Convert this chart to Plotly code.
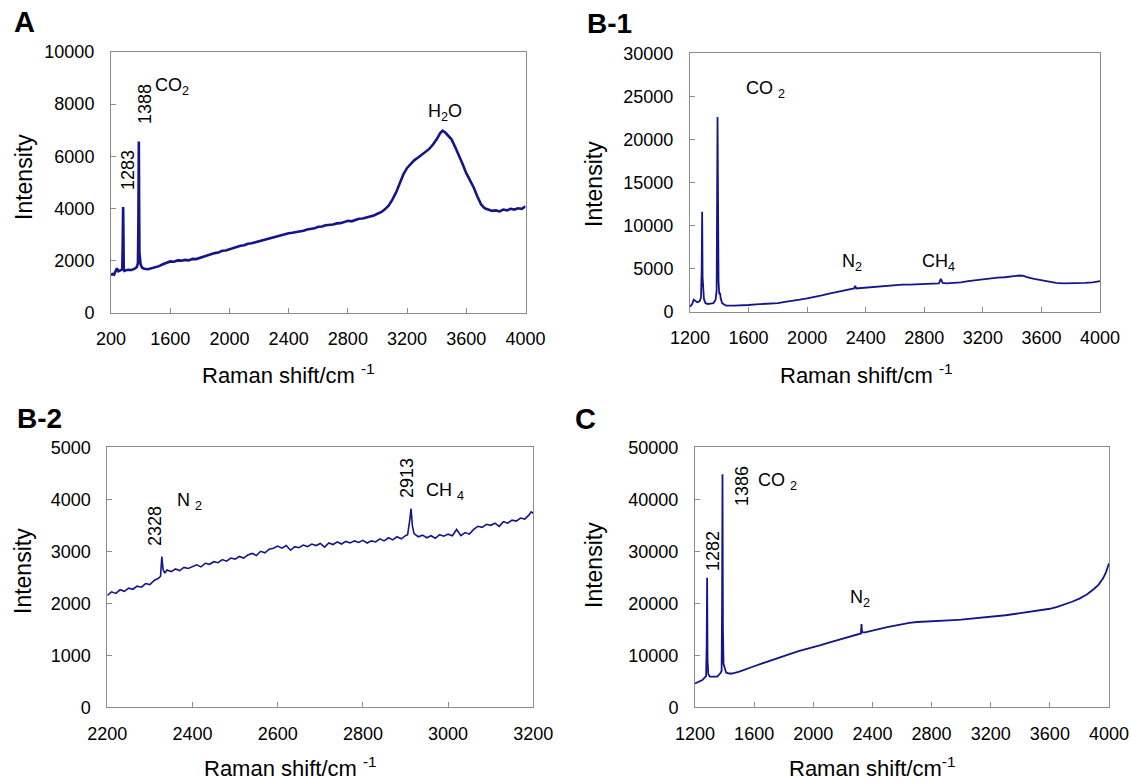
import plotly.graph_objects as go

# ---------------- data ----------------
a_x = [1200,1210,1220,1230,1240,1250,1260,1270,1276,1279,1282,1284,1286,1290,1300,1320,1340,1360,1375,1382,1385,1388,1390,1392,1396,1400,1410,1425,1450,1475,1500,1525,1550,1575,1600,1625,1650,1675,1700,1725,1750,1775,1800,1825,1850,1875,1900,1925,1950,1975,2000,2025,2050,2075,2100,2125,2150,2175,2200,2225,2250,2275,2300,2325,2350,2375,2400,2425,2450,2475,2500,2525,2550,2575,2600,2625,2650,2675,2700,2725,2750,2775,2800,2825,2850,2875,2900,2925,2950,2975,3000,3025,3050,3075,3100,3125,3150,3175,3200,3225,3250,3275,3300,3325,3350,3375,3400,3425,3440,3460,3475,3500,3525,3550,3575,3600,3625,3650,3675,3700,3725,3750,3775,3800,3825,3850,3875,3900,3925,3950,3975,4000]
a_y = [1430,1480,1450,1620,1700,1580,1600,1620,1650,2600,4050,3000,1700,1600,1620,1640,1630,1680,1750,1900,3500,6560,4200,2300,1950,1850,1720,1680,1660,1700,1720,1780,1850,1900,1960,1950,2000,1990,2020,2000,2060,2050,2100,2150,2200,2230,2280,2300,2370,2380,2430,2470,2500,2560,2580,2640,2660,2700,2720,2780,2800,2860,2880,2920,2960,3010,3040,3060,3080,3110,3140,3190,3220,3230,3290,3300,3350,3360,3380,3420,3430,3470,3520,3500,3560,3600,3610,3650,3700,3720,3790,3850,3960,4100,4320,4600,4950,5300,5550,5700,5850,5950,6050,6150,6280,6450,6650,6900,6980,6900,6800,6650,6350,6050,5700,5350,5100,4800,4450,4150,4000,3950,3900,3920,3880,3950,3920,3980,3950,4000,3980,4080]

b1_x = [1200,1215,1225,1235,1250,1265,1275,1280,1283,1286,1290,1295,1305,1320,1340,1360,1375,1382,1388,1391,1395,1400,1405,1410,1420,1435,1450,1500,1550,1600,1650,1700,1750,1800,1850,1900,1950,2000,2050,2100,2150,2200,2250,2300,2320,2328,2335,2350,2400,2450,2500,2550,2600,2650,2700,2750,2800,2850,2900,2913,2925,2950,3000,3050,3100,3150,3200,3250,3300,3350,3400,3450,3480,3500,3550,3600,3650,3700,3750,3800,3850,3900,3950,4000]
b1_y = [580,900,1400,1300,1100,1200,1600,5000,11600,4000,2200,1500,1000,900,950,1000,1400,2500,22600,9000,3500,2000,2200,1500,1000,800,700,700,720,780,850,900,950,1000,1150,1250,1400,1550,1700,1900,2100,2300,2450,2650,2700,3000,2700,2720,2800,2900,2950,3000,3100,3150,3150,3180,3200,3230,3280,3800,3350,3300,3350,3400,3550,3650,3800,3900,3950,4000,4100,4200,4150,4000,3800,3650,3450,3350,3300,3300,3320,3350,3400,3550]

b2_x = [2200,2210,2220,2230,2240,2250,2260,2270,2280,2290,2300,2310,2320,2325,2328,2331,2335,2340,2350,2360,2370,2380,2390,2400,2410,2420,2430,2440,2450,2460,2470,2480,2490,2500,2510,2520,2530,2540,2550,2560,2570,2580,2590,2600,2610,2620,2630,2640,2650,2660,2670,2680,2690,2700,2710,2720,2730,2740,2750,2760,2770,2780,2790,2800,2810,2820,2830,2840,2850,2860,2870,2880,2890,2900,2905,2910,2913,2916,2920,2930,2940,2950,2960,2970,2980,2990,3000,3010,3020,3030,3040,3050,3060,3070,3080,3090,3100,3110,3120,3130,3140,3150,3160,3170,3180,3190,3195,3200]
b2_y = [2150,2220,2190,2260,2230,2290,2270,2330,2310,2380,2360,2440,2480,2520,2900,2650,2580,2640,2610,2660,2630,2690,2670,2700,2740,2700,2770,2750,2800,2780,2840,2810,2870,2850,2900,2870,2930,2960,2920,3000,2970,3040,3060,3100,3060,3110,3020,3090,3070,3120,3090,3140,3110,3150,3080,3160,3130,3180,3140,3190,3160,3200,3170,3210,3160,3200,3180,3240,3200,3260,3220,3280,3240,3300,3320,3600,3820,3500,3340,3280,3310,3260,3300,3250,3320,3290,3330,3300,3420,3300,3360,3330,3420,3480,3460,3520,3500,3540,3480,3570,3540,3600,3580,3640,3620,3700,3760,3730]

c_x = [1200,1225,1250,1265,1275,1279,1282,1285,1290,1300,1320,1350,1370,1380,1383,1386,1389,1393,1400,1410,1430,1450,1500,1550,1600,1650,1700,1750,1800,1850,1900,1950,2000,2050,2100,2150,2200,2250,2300,2322,2326,2330,2350,2400,2450,2500,2550,2600,2650,2700,2750,2800,2850,2900,2950,3000,3100,3200,3300,3400,3500,3600,3650,3700,3750,3800,3850,3900,3930,3960,3980,4000]
c_y = [4600,4850,5250,5700,6000,12000,24900,9000,6400,5900,5850,5900,6500,7000,20000,44800,15000,8300,7700,6700,6500,6500,6850,7300,7900,8400,8900,9400,9950,10400,10800,11200,11550,11950,12400,12800,13150,13600,14000,14200,16000,14400,14400,14800,15100,15400,15700,16050,16250,16400,16450,16550,16600,16700,16750,16850,17100,17350,17700,18100,18500,18950,19300,19750,20300,20900,21700,22800,23600,24800,26000,27700]

a_xticks = [1200,1600,2000,2400,2800,3200,3600,4000]
a_xticktext = ["200","1600","2000","2400","2800","3200","3600","4000"]
wide_xticks = [1200,1600,2000,2400,2800,3200,3600,4000]
b2_xticks = [2200,2400,2600,2800,3000,3200]

# ---------------- styling ----------------
W, H = 1131, 782
LINE = "#15158a"
AX = "#8c8c8c"
FONT = "Liberation Sans, Arial, sans-serif"

def px(x):
    return x / W

def py(y):
    return 1 - y / H

fig = go.Figure()
fig.add_trace(go.Scatter(x=a_x, y=a_y, mode="lines", line=dict(color=LINE, width=2.6), xaxis="x", yaxis="y", showlegend=False))
fig.add_trace(go.Scatter(x=b1_x, y=b1_y, mode="lines", line=dict(color=LINE, width=1.8), xaxis="x2", yaxis="y2", showlegend=False))
fig.add_trace(go.Scatter(x=b2_x, y=b2_y, mode="lines", line=dict(color=LINE, width=1.6), xaxis="x3", yaxis="y3", showlegend=False))
fig.add_trace(go.Scatter(x=c_x, y=c_y, mode="lines", line=dict(color=LINE, width=1.8), xaxis="x4", yaxis="y4", showlegend=False))

def xax(domain, rng, tickvals, ticktext, anchor):
    return dict(domain=domain, range=rng, tickvals=tickvals, ticktext=ticktext,
                showline=True, mirror=True, linecolor=AX, linewidth=1,
                ticks="inside", ticklen=5, tickcolor=AX, showgrid=False, zeroline=False,
                tickfont=dict(family=FONT, size=18, color="black"), anchor=anchor,
                ticklabelstandoff=10, automargin=False)

def yax(domain, rng, dtick, anchor):
    return dict(domain=domain, range=rng, tick0=0, dtick=dtick, tickformat="d",
                showline=True, mirror=True, linecolor=AX, linewidth=1,
                ticks="inside", ticklen=5, tickcolor=AX, showgrid=False, zeroline=False,
                tickfont=dict(family=FONT, size=18, color="black"), anchor=anchor,
                ticklabelstandoff=12, automargin=False)

boxes = {
    "A": (111, 525.5, 52, 312.5),
    "B1": (690, 1100, 53.3, 311.7),
    "B2": (107.3, 533.3, 447.3, 707.3),
    "C": (695, 1109, 447.3, 707.3),
}

def dom(key):
    l, r, t, b = boxes[key]
    return [px(l), px(r)], [py(b), py(t)]

dxA, dyA = dom("A")
dxB1, dyB1 = dom("B1")
dxB2, dyB2 = dom("B2")
dxC, dyC = dom("C")

fig.update_layout(
    width=W, height=H, margin=dict(l=0, r=0, t=0, b=0, autoexpand=False),
    paper_bgcolor="white", plot_bgcolor="white",
    font=dict(family=FONT, color="black"),
    xaxis=xax(dxA, [1200, 4000], a_xticks, a_xticktext, "y"),
    yaxis=yax(dyA, [0, 10000], 2000, "x"),
    xaxis2=xax(dxB1, [1200, 4000], wide_xticks, [str(v) for v in wide_xticks], "y2"),
    yaxis2=yax(dyB1, [0, 30000], 5000, "x2"),
    xaxis3=xax(dxB2, [2200, 3200], b2_xticks, [str(v) for v in b2_xticks], "y3"),
    yaxis3=yax(dyB2, [0, 5000], 1000, "x3"),
    xaxis4=xax(dxC, [1200, 4000], wide_xticks, [str(v) for v in wide_xticks], "y4"),
    yaxis4=yax(dyC, [0, 50000], 10000, "x4"),
)

ann = []

def add(text, x, y, size=18, angle=0, bold=False, xanchor="center"):
    t = "<b>%s</b>" % text if bold else text
    ann.append(dict(text=t, x=px(x), y=py(y), xref="paper", yref="paper",
                    showarrow=False, textangle=angle, xanchor=xanchor, yanchor="middle",
                    font=dict(family=FONT, size=size, color="black")))

# panel labels
add("A", 24, 22, size=29, bold=True)
add("B-1", 609, 23, size=28, bold=True)
add("B-2", 39, 419, size=28, bold=True)
add("C", 585, 419, size=29, bold=True)

# axis titles
xt = "Raman shift/cm <sup>-1</sup>"
add(xt, 288, 374, size=22)
add(xt, 866, 374, size=22)
add(xt, 290, 767, size=22)
add("Raman shift/cm<sup>-1</sup>", 872, 767, size=22)
for (x, y) in [(24, 177), (594, 184), (23, 571), (594, 565)]:
    add("Intensity", x, y, size=23, angle=-90)

# peak labels A
add("1283", 128, 170, angle=-90)
add("1388", 145, 104, angle=-90)
add("CO<sub>2</sub>", 153, 86, xanchor="left")
add("H<sub>2</sub>O", 445, 112)
# B-1
add("CO <sub>2</sub>", 765, 89)
add("N<sub>2</sub>", 852, 262)
add("CH<sub>4</sub>", 938, 262)
# B-2
add("2328", 155, 526, angle=-90)
add("N <sub>2</sub>", 190, 502)
add("2913", 407, 478, angle=-90)
add("CH <sub>4</sub>", 445, 491)
# C
add("1282", 713, 551, angle=-90)
add("1386", 742, 486, angle=-90)
add("CO <sub>2</sub>", 756, 482, xanchor="left")
add("N<sub>2</sub>", 860, 598)

fig.update_layout(annotations=ann)
fig.write_html("out.html",
               config={"displayModeBar": False},
               post_script="document.body.style.margin='0';document.body.style.overflow='hidden';")
